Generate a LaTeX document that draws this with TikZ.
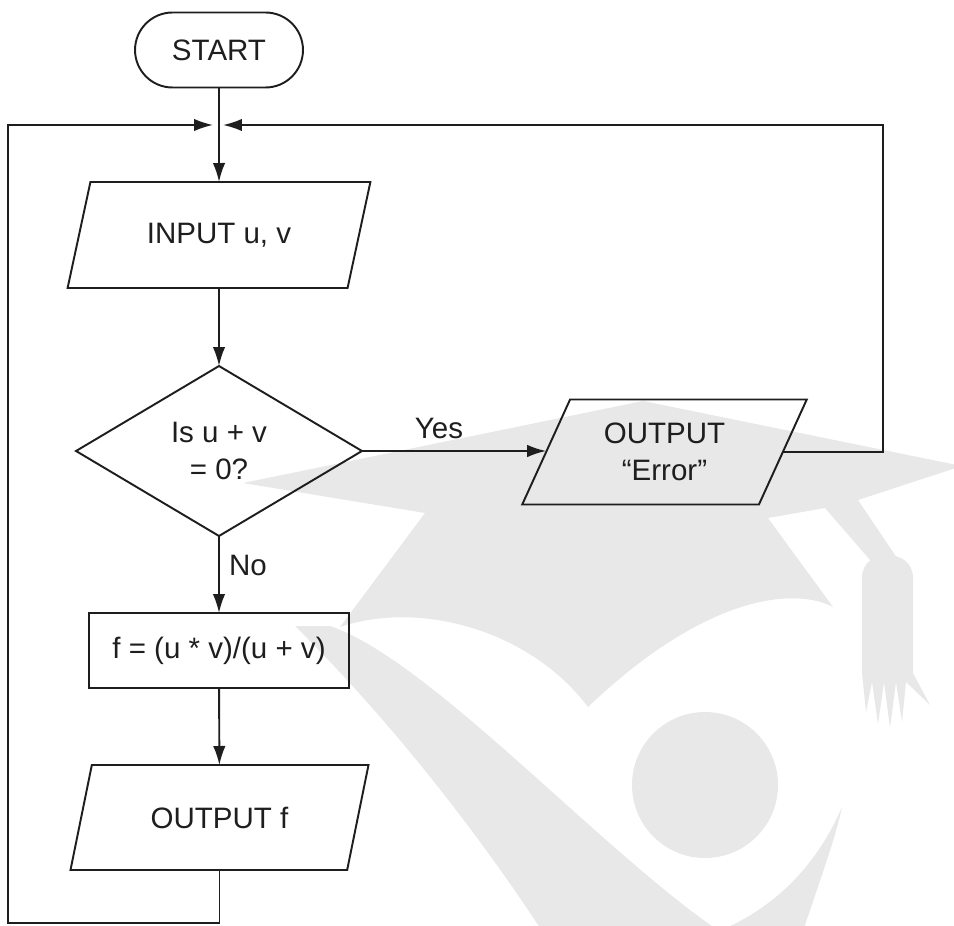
\documentclass[tikz,border=0pt]{standalone}
\usepackage{fontspec}
\setmainfont{Liberation Sans}
\usetikzlibrary{shapes.geometric,arrows.meta}
\definecolor{wm}{RGB}{232,232,232}
\definecolor{ink}{RGB}{30,30,30}
\tikzset{
  fcbase/.style={draw=ink, line width=1.1pt, inner sep=0pt, outer sep=0pt,
    font=\fontsize{16.8pt}{21pt}\selectfont, text=ink, align=center},
  termbox/.style={fcbase, rectangle, rounded corners=0.75cm, minimum width=3.36cm, minimum height=1.5cm},
  iobox/.style={fcbase, trapezium, trapezium left angle=62, trapezium right angle=118, trapezium stretches=true},
  procbox/.style={fcbase, rectangle, minimum width=5.2cm, minimum height=1.5cm},
  decbox/.style={fcbase, diamond, minimum width=5.72cm, minimum height=3.4cm},
  arr/.style={draw=ink, line width=1.1pt, -{Latex[length=0.38cm,width=0.25cm]}},
  lbl/.style={font=\fontsize{16.8pt}{21pt}\selectfont, text=ink, inner sep=0pt},
  wmfill/.style={fill=wm, draw=none}
}
\begin{document}
\begin{tikzpicture}[x=0.02cm, y=-0.02cm]
\useasboundingbox (0,0) rectangle (954,926);
% watermark
\begin{scope}
\clip (0,0) rectangle (954,926);
\path[wmfill] (243,483) -- (643,401) -- (962,466) -- (858,500) -- (897,558) -- (870,560)
  -- (825,508) -- (768,518) -- (833,607)
  .. controls (790,585) and (700,600) .. (588,707)
  .. controls (530,630) and (420,600) .. (340,627) -- (425,513) -- cycle;
\path[wmfill] (295,626) .. controls (380,710) and (470,820) .. (548,940)
  -- (800,940) .. controls (820,880) and (835,840) .. (842,807)
  .. controls (815,870) and (770,910) .. (719,931)
  .. controls (600,850) and (430,660) .. (330,626) -- cycle;
\path[wmfill] (705,785) circle[radius=73];
\path[wmfill] (862,673) -- (862,578) .. controls (862,562) and (875,555) .. (887,555)
  .. controls (900,555) and (913,562) .. (913,578) -- (913,673) -- (930,705) -- (906,682)
  -- (902,722) -- (896,682) -- (890,728) -- (884,682) -- (878,724) -- (872,682) -- (866,712) -- cycle;
\end{scope}
% nodes
\node[termbox] (start) at (219,50) {START};
\node[iobox, minimum width=6.08cm, minimum height=2.12cm] (in) at (219,235) {INPUT u, v};
\node[decbox] (dec) at (219,451) {Is u + v\\= 0?};
\node[procbox] (proc) at (219,650.5) {f = (u * v)/(u + v)};
\node[iobox, minimum width=5.98cm, minimum height=2.1cm] (outf) at (219.5,817.5) {OUTPUT f};
\node[iobox, minimum width=5.7cm, minimum height=2.1cm] (err) at (664.5,452) {OUTPUT\\“Error”};
\node[lbl] (yes) at (439,428) {Yes};
\node[lbl] (no) at (248,565) {No};
\coordinate (jn) at (219,125);
\coordinate (rt) at (883,125);
\coordinate (lb) at (8,923);
% connectors
\draw[arr] (start) -- (in);
\draw[arr] (in) -- (dec);
\draw[arr] (dec) -- (proc);
\draw[arr] (proc) -- (outf);
\draw[arr] (dec.east) -- (dec.east -| err.west);
\draw[arr, shorten >=0.08cm] (err.east) -| (rt) -- (jn);
\draw[arr, shorten >=0.12cm] (outf.south) |- (lb) |- (jn);
\end{tikzpicture}
\end{document}
